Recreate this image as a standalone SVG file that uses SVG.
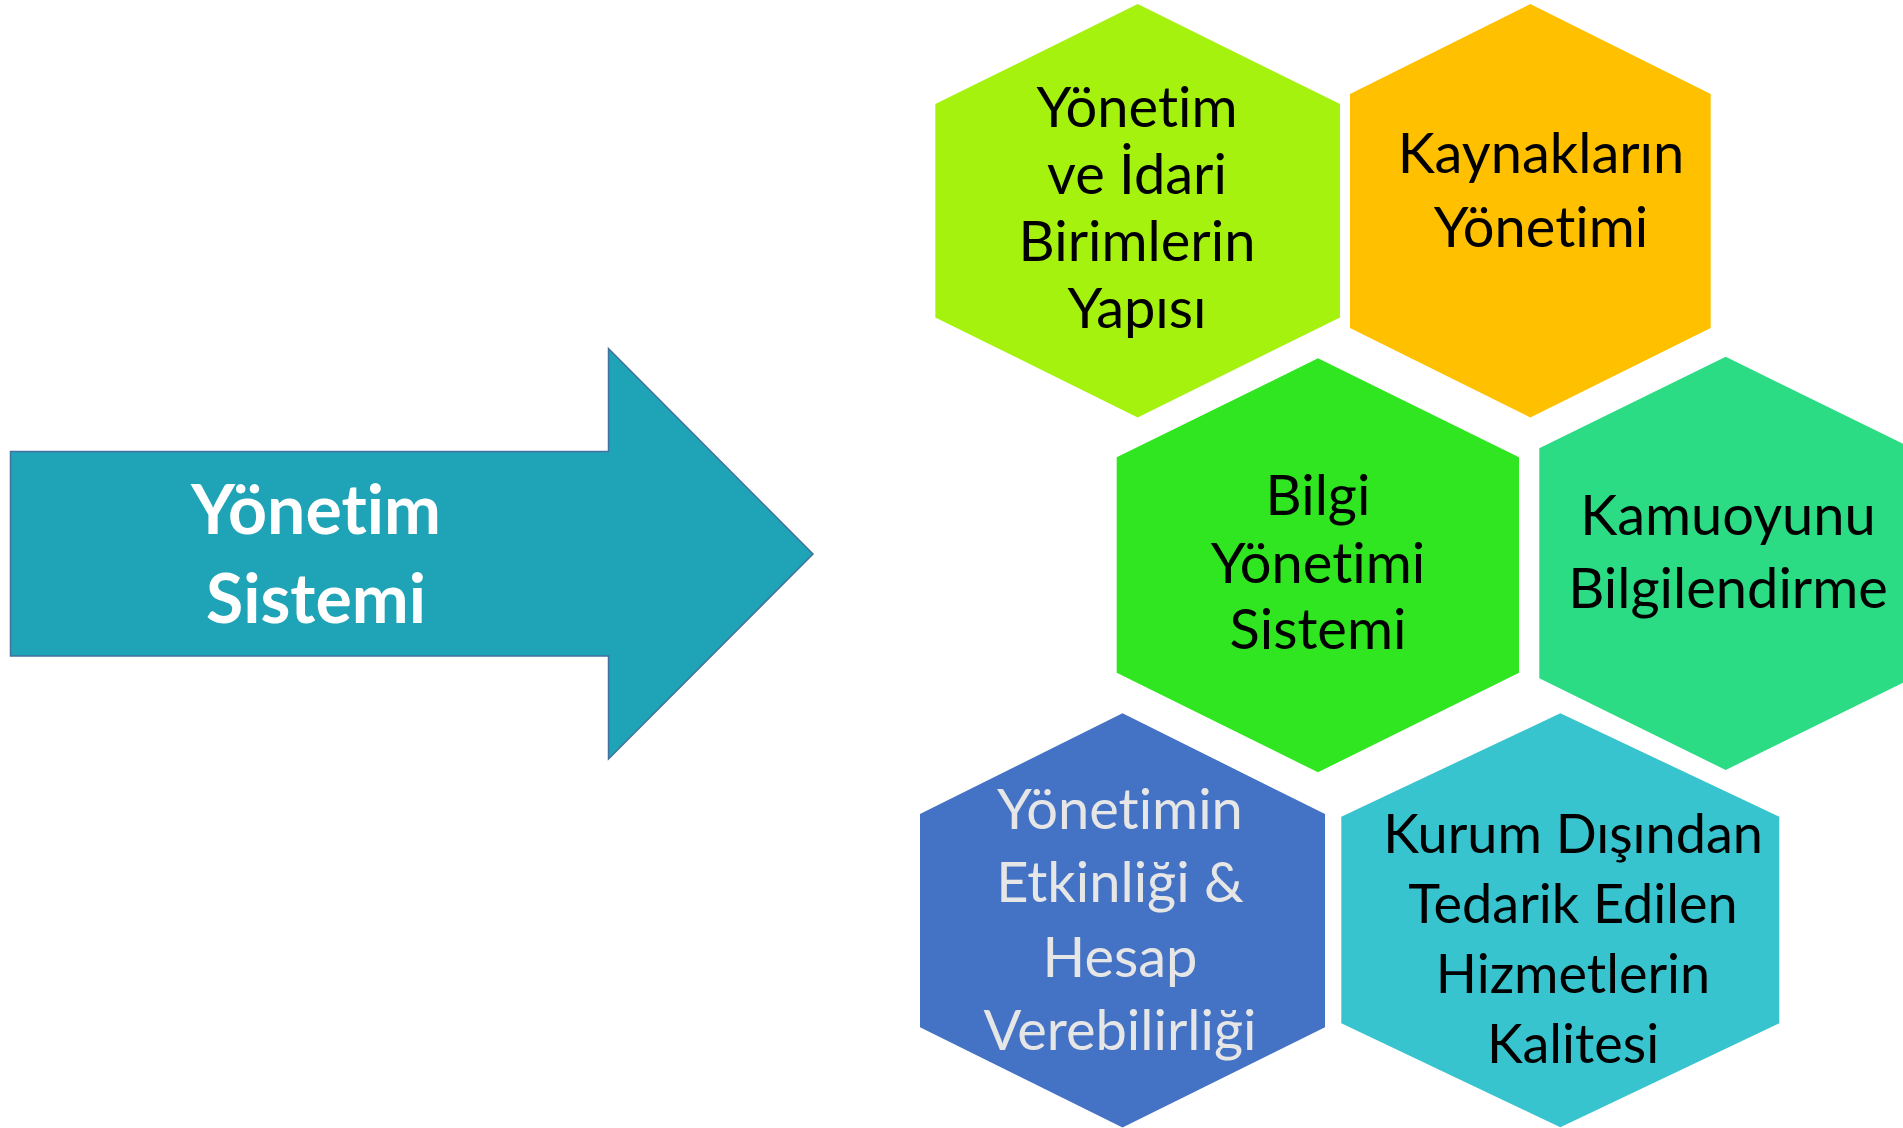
<svg xmlns="http://www.w3.org/2000/svg" width="1903" height="1128" viewBox="0 0 1903 1128">
<style>
.t{font-family:Lato,"Open Sans","DejaVu Sans",sans-serif;font-size:56px;text-anchor:middle;fill:#000;font-variant-ligatures:none}
.s{font-size:54px}
.w{fill:#E7E6E6}
.b{font-family:Lato,"Open Sans","DejaVu Sans",sans-serif;font-size:68px;font-weight:bold;text-anchor:middle;fill:#fff;font-variant-ligatures:none}
</style>
<rect width="1903" height="1128" fill="#fff"/>
<g id="arrow">
<path d="M10.5,451.5 H608.5 V348.5 L813,554 L608.5,759 V656 H10.5 Z" fill="#1FA3B6" stroke="#41719C" stroke-width="1.5"/>
<text class="b" x="316" y="534">Yönetim</text>
<text class="b" x="316" y="623">Sistemi</text>
</g>
<g id="hex1">
<polygon points="1137.7,4 1340,104 1340,317.5 1137.7,417.5 935.3,317.5 935.3,104" fill="#A6F20F"/>
<text class="t" x="1137" y="127">Yönetim</text>
<text class="t" x="1137" y="194">ve İdari</text>
<text class="t" x="1137" y="261">Birimlerin</text>
<text class="t" x="1137" y="328">Yapısı</text>
</g>
<g id="hex2">
<polygon points="1530.3,4 1710.7,94 1710.7,328 1530.3,417.5 1350,328 1350,94" fill="#FFC000"/>
<text class="t" x="1541" y="173">Kaynakların</text>
<text class="t" x="1541" y="247">Yönetimi</text>
</g>
<g id="hex3">
<polygon points="1318,358.3 1519,457.3 1519,672.7 1318,772.3 1116.7,672.7 1116.7,457.3" fill="#2FE620"/>
<text class="t" x="1318" y="515">Bilgi</text>
<text class="t" x="1318" y="582.7">Yönetimi</text>
<text class="t" x="1318" y="649.3">Sistemi</text>
</g>
<g id="hex4">
<polygon points="1725.7,356.7 1912,448.3 1912,678.3 1725.7,770 1539.3,678.3 1539.3,448.3" fill="#2BDC84"/>
<text class="t" x="1728" y="535">Kamuoyunu</text>
<text class="t" x="1728" y="607.7">Bilgilendirme</text>
</g>
<g id="hex5">
<polygon points="1122.5,713.3 1325,814 1325,1027.3 1122.5,1127.5 920,1027.3 920,814" fill="#4472C4"/>
<text class="t w" x="1120" y="829.3">Yönetimin</text>
<text class="t w" x="1120" y="902.3">Etkinliği &amp;</text>
<text class="t w" x="1120" y="976.7">Hesap</text>
<text class="t w" x="1120" y="1050">Verebilirliği</text>
</g>
<g id="hex6">
<polygon points="1560.3,713.3 1779.3,816.7 1779.3,1023.3 1560.3,1127.3 1341.3,1023.3 1341.3,816.7" fill="#37C4CE"/>
<text class="t s" x="1573" y="852.7">Kurum Dışından</text>
<text class="t s" x="1573" y="922.7">Tedarik Edilen</text>
<text class="t s" x="1573" y="992.7">Hizmetlerin</text>
<text class="t s" x="1573" y="1062.7">Kalitesi</text>
</g>
<g id="connectors"></g>
</svg>
